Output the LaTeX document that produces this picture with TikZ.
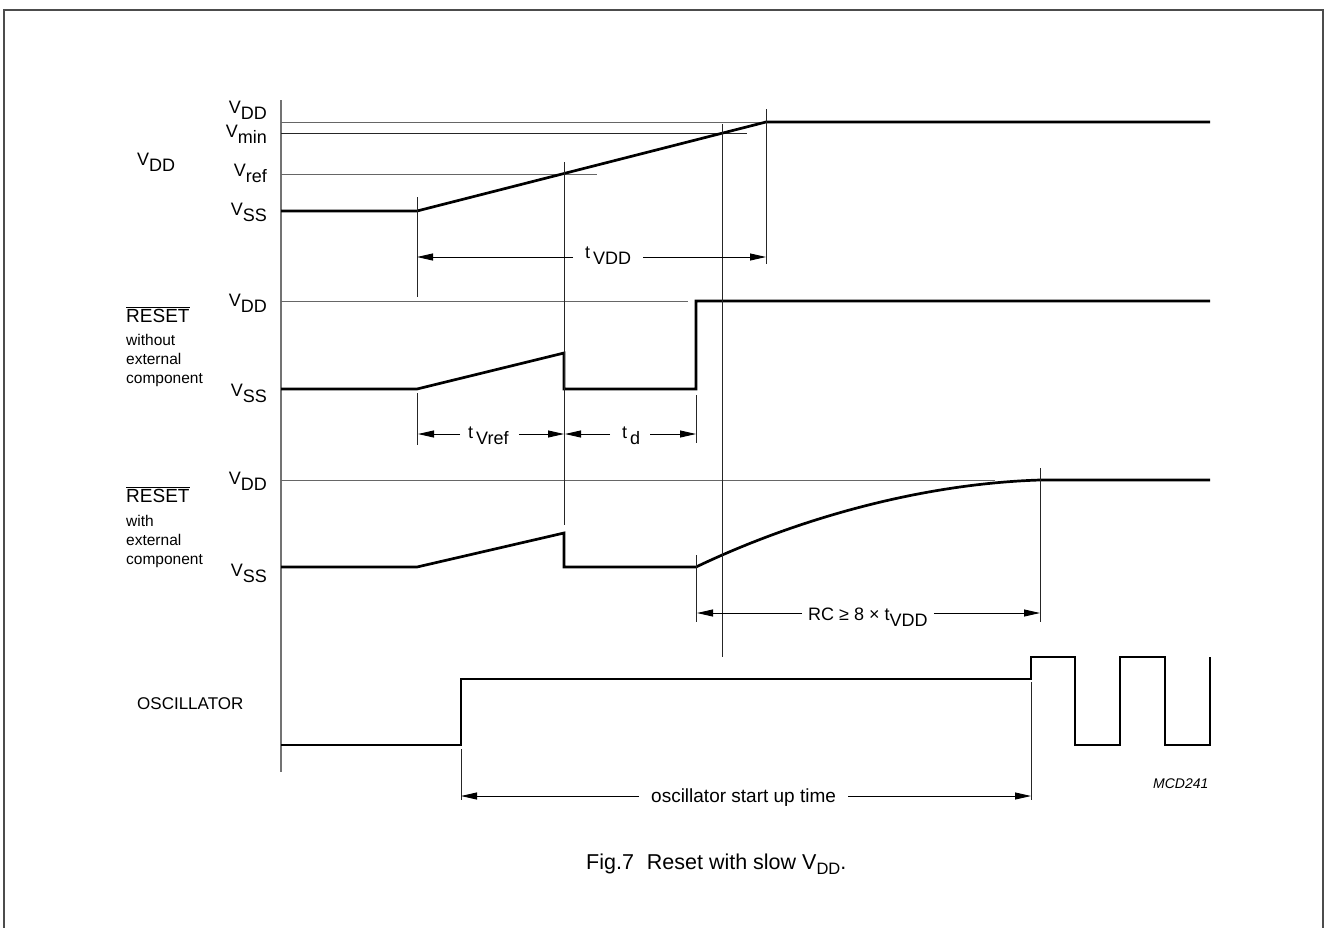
\documentclass[tikz,border=0pt]{standalone}
\usepackage{fontspec}
\setmainfont{Liberation Sans}
\usetikzlibrary{arrows.meta}
\newcommand{\dn}[1]{\raisebox{-0.38em}{#1}}
\newcommand{\fA}{\fontsize{18}{20}\selectfont}
\newcommand{\fB}{\fontsize{15.5}{19}\selectfont}
\newcommand{\fC}{\fontsize{21.5}{25}\selectfont}
\begin{document}
\begin{tikzpicture}[x=1pt,y=-1pt,
  sig/.style={line width=2.7pt, line join=miter, line cap=butt},
  lvl/.style={line width=1pt, draw=black!60},
  vmark/.style={line width=0.9pt, draw=black!85},
  dimline/.style={line width=0.9pt, -{Triangle[length=16pt,width=7pt]}},
  lab/.style={font=\fA, inner sep=0pt},
  rlab/.style={font=\fA, inner sep=0pt, anchor=base east},
  small/.style={font=\fB, inner sep=0pt, anchor=base west},
]
\useasboundingbox (0,0) rectangle (1325,927);
% frame
\draw[line width=2pt, black!70] (4,935) -- (4,10) -- (1323,10) -- (1323,935);
% axis
\draw[line width=2pt, black!55] (281,100) -- (281,772);

% ---- row 1 : VDD
\draw[lvl] (281,122) -- (766,122);
\draw[vmark] (281,133) -- (747,133);
\draw[lvl] (281,174) -- (597,174);
\draw[sig] (281,211) -- (417,211) -- (766,122) -- (1210,122);
\node[lab, anchor=base west] (lvdd) at (137,165) {V\dn{DD}};
\node[rlab] (r1dd) at (267,113) {V\dn{DD}};
\node[rlab] (r1min) at (267,137) {V\dn{min}};
\node[rlab] (r1ref) at (267,176) {V\dn{ref}};
\node[rlab] (r1ss) at (267,215) {V\dn{SS}};

% ---- row 2 : RESET without external component
\draw[lvl] (281,301) -- (688,301);
\draw[sig] (281,389) -- (417,389) -- (564,353) -- (564,389) -- (696,389) -- (696,301) -- (1210,301);
\node[lab, anchor=base west, font=\fontsize{19}{21}\selectfont] (rs2) at (126,322) {$\overline{\mbox{RESET}}$};
\node[small] (w2a) at (126,345) {without};
\node[small] (w2b) at (126,364) {external};
\node[small] (w2c) at (126,383) {component};
\node[rlab] (r2dd) at (267,306) {V\dn{DD}};
\node[rlab] (r2ss) at (267,396) {V\dn{SS}};

% ---- row 3 : RESET with external component
\draw[lvl] (281,480) -- (995,480);
\draw[sig] (281,567) -- (417,567) -- (564,533) -- (564,567) -- (696,567)
  .. controls (790,522) and (915,484) .. (1040,480) -- (1210,480);
\node[lab, anchor=base west, font=\fontsize{19}{21}\selectfont] (rs3) at (126,502) {$\overline{\mbox{RESET}}$};
\node[small] (w3a) at (126,526) {with};
\node[small] (w3b) at (126,545) {external};
\node[small] (w3c) at (126,564) {component};
\node[rlab] (r3dd) at (267,484) {V\dn{DD}};
\node[rlab] (r3ss) at (267,576) {V\dn{SS}};

% ---- row 4 : oscillator
\draw[sig] (281,745) -- (461,745) -- (461,679) -- (1031,679) -- (1031,657) -- (1075,657)
  -- (1075,745) -- (1120,745) -- (1120,657) -- (1165,657) -- (1165,745) -- (1210,745) -- (1210,657);
\node[lab, anchor=base west, font=\fontsize{17}{19}\selectfont] (osc) at (137,709) {OSCILLATOR};

% ---- vertical marker lines
\draw[vmark] (417,197) -- (417,297);
\draw[vmark] (417,393) -- (417,445);
\draw[vmark] (564,162) -- (564,525);
\draw[vmark] (696,395) -- (696,443);
\draw[vmark] (696,555) -- (696,622);
\draw[vmark] (722,124) -- (722,657);
\draw[vmark] (766,109) -- (766,264);
\draw[vmark] (1040,468) -- (1040,622);
\draw[vmark] (461,749) -- (461,800);
\draw[vmark] (1031,682) -- (1031,800);

% ---- dimension arrows
\coordinate (a1) at (417,257); \coordinate (b1) at (766,257);
\node[lab, anchor=base west] (tvdd) at (585,258) {t\,\dn{VDD}};
\draw[dimline] ([xshift=-12pt]tvdd.west |- a1) -- (a1);
\draw[dimline] ([xshift=12pt]tvdd.east |- b1) -- (b1);

\coordinate (a2) at (418,434); \coordinate (b2) at (564,434);
\node[lab, anchor=base west] (tvref) at (468,438) {t\,\dn{Vref}};
\draw[dimline] ([xshift=-8pt]tvref.west |- a2) -- (a2);
\draw[dimline] ([xshift=10pt]tvref.east |- b2) -- (b2);

\coordinate (a3) at (565,434); \coordinate (b3) at (696,434);
\node[lab, anchor=base west] (td) at (622,438) {t\,\dn{d}};
\draw[dimline] ([xshift=-12pt]td.west |- a3) -- (a3);
\draw[dimline] ([xshift=10pt]td.east |- b3) -- (b3);

\coordinate (a4) at (697,613); \coordinate (b4) at (1040,613);
\node[lab, anchor=base west] (rc) at (808,620) {RC ≥ 8 × t\dn{VDD}};
\draw[dimline] ([xshift=-6pt]rc.west |- a4) -- (a4);
\draw[dimline] ([xshift=6pt]rc.east |- b4) -- (b4);

\coordinate (a5) at (461,796); \coordinate (b5) at (1031,796);
\node[lab, anchor=base west, font=\fontsize{19}{21}\selectfont] (ost) at (651,802) {oscillator start up time};
\draw[dimline] ([xshift=-12pt]ost.west |- a5) -- (a5);
\draw[dimline] ([xshift=12pt]ost.east |- b5) -- (b5);

% ---- id and caption
\node[inner sep=0pt, anchor=base west, font=\fontsize{14}{16}\selectfont\itshape] (mcd) at (1153,788) {MCD241};
\node[inner sep=0pt, anchor=base west, font=\fC] (cap) at (586,869)
  {Fig.7\hspace{0.6em}Reset with slow V\raisebox{-0.25em}{\fontsize{16.5}{16.5}\selectfont DD}.};
\end{tikzpicture}
\end{document}
